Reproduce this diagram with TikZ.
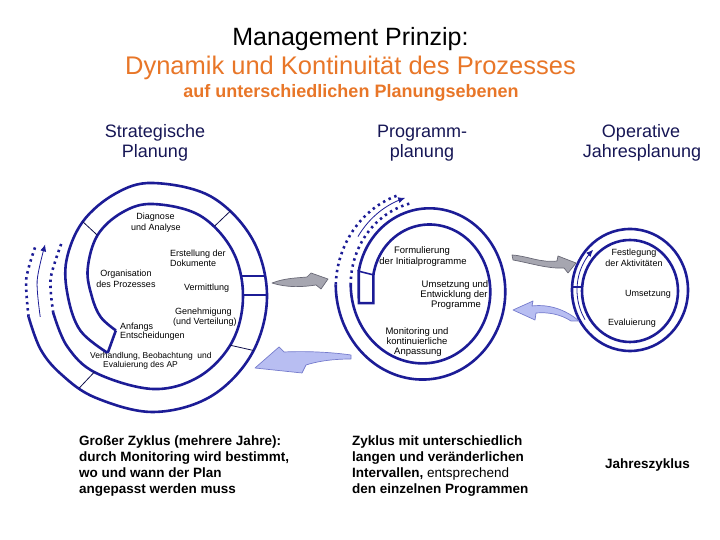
\documentclass[tikz,border=0pt]{standalone}
\usepackage{fontspec}
\setmainfont{Liberation Sans}
\usetikzlibrary{arrows.meta}
\definecolor{navy}{RGB}{28,28,150}
\definecolor{hdr}{RGB}{22,22,85}
\definecolor{orng}{RGB}{232,118,40}
\definecolor{grayarr}{RGB}{166,166,176}
\definecolor{grayedge}{RGB}{105,105,118}
\definecolor{lavarr}{RGB}{184,190,242}
\definecolor{lavedge}{RGB}{118,124,205}
\begin{document}
\begin{tikzpicture}[x=1pt,y=1pt,
  ring/.style={draw=navy, line width=2.6pt},
  ringdot/.style={draw=navy, line width=2.6pt, dash pattern=on 2.4pt off 3.8pt},
  divider/.style={draw=navy!50!black, line width=0.8pt},
  boxline/.style={draw=navy, line width=1.6pt},
  thinarr/.style={draw=navy, line width=0.8pt, -{Latex[length=7pt,width=6pt]}},
  slbl/.style={font=\fontsize{9}{10}\selectfont, inner sep=0, anchor=base},
  mlbl/.style={font=\fontsize{9.5}{10}\selectfont, inner sep=0, anchor=base},
  hdrtxt/.style={font=\fontsize{18}{20}\selectfont, text=hdr, inner sep=0, anchor=base},
  bottxt/.style={font=\bfseries\fontsize{13.5}{15}\selectfont, inner sep=0, anchor=base west},
  grayblock/.style={fill=grayarr, draw=grayedge, line width=0.7pt, line join=round},
  lavblock/.style={fill=lavarr, draw=lavedge, line width=0.7pt, line join=round}]
\useasboundingbox (0,0) rectangle (720,540);

% ---------- titles ----------
\node[anchor=base, inner sep=0, font=\fontsize{25}{28}\selectfont] (t1) at (350.5,494) {Management Prinzip:};
\node[anchor=base, inner sep=0, font=\fontsize{25.5}{28}\selectfont, text=orng] (t2) at (350.5,465) {Dynamik und Kontinuität des Prozesses};
\node[anchor=base, inner sep=0, font=\bfseries\fontsize{18}{20}\selectfont, text=orng] (t3) at (351,442) {auf unterschiedlichen Planungsebenen};

% ---------- headers ----------
\node[hdrtxt] (s1) at (155,402) {Strategische};
\node[hdrtxt] (s2) at (155,382) {Planung};
\node[hdrtxt] (p1) at (422,402) {Programm-};
\node[hdrtxt] (p2) at (422,382) {planung};
\node[hdrtxt] (o1) at (641,402) {Operative};
\node[hdrtxt] (o2) at (642,382) {Jahresplanung};

% ---------- left spiral ----------
\begin{scope}[shift={(153,243)}]
  \draw[ring] plot[smooth, tension=0.6] coordinates {(222:50) (201:56) (180:61) (157:71) (132:83) (110:90) (90:93) (60:94) (30:92) (0:90) (-30:91) (-60:92) (-90:92) (-127:95) (-150:99) (-171:101)};
  \draw[ring] plot[smooth, tension=0.6] coordinates {(231:72) (205:80) (180:85) (157:94) (133:103) (110:110) (90:114) (60:116) (30:115) (0:114) (-30:114) (-60:115) (-90:115) (-120:116) (-140:120) (-155:124) (-171:126)};
  \draw[ring] (222:50) -- (231:72);
  \draw[ringdot] plot[smooth] coordinates {(-171:101) (-190:104) (-210:106)};
  \draw[ringdot] plot[smooth] coordinates {(-171:126) (-188:128) (-203:128)};
  \draw[thinarr] plot[smooth] coordinates {(-170:114.5) (-188:117) (-206:120)};
  \draw[divider] (132:83) -- (133:103);
  \draw[divider] (49:94) -- (48:116);
  \draw[divider] (-32:91) -- (-28:114);
  \draw[divider] (-128:95) -- (-129:117);
  \draw[boxline] (87.5,21) -- (112,21);
  \draw[boxline] (90,2) -- (114,2);
\end{scope}

% ---------- middle spiral ----------
\begin{scope}[shift={(426,252)}, yscale=1.08]
  \draw[ring] plot[domain=0:349, samples=90, variable=\t, smooth] ({167-\t}:{54+22*\t/360});
  \draw[ring] plot[domain=0:349, samples=90, variable=\t, smooth] ({167-\t}:{69+22*\t/360});
  \draw[ringdot] plot[domain=349:427, samples=25, variable=\t, smooth] ({167-\t}:{75.3+0.06*(\t-349)});
  \draw[ringdot] plot[domain=349:420, samples=25, variable=\t, smooth] ({167-\t}:{90.3});
  \draw[thinarr] plot[domain=145:104, samples=20, variable=\t, smooth] (\t:{83+3*(145-\t)/41});
  \draw[ring, line cap=rect] (167:69) -- (-67.2,-14) -- (-52.6,-14) -- (167:54);
  \draw[boxline] (167:54) -- (167:69);
\end{scope}

% ---------- right circle ----------
\draw[ring] (630,250) ellipse [x radius=58, y radius=61];
\draw[ring] (630,249) ellipse [x radius=48, y radius=51];
\draw[boxline] (572,253) -- (582,253);
\begin{scope}[shift={(630,250)}]
  \draw[thinarr] plot[domain=212:134, samples=30, variable=\t, smooth] ({53*cos(\t)},{56*sin(\t)});
\end{scope}

% ---------- block arrows ----------
\draw[grayblock] (272,257) .. controls (285,262) and (297,262) .. (307,263) -- (311,267) -- (328,261) -- (321,251) -- (316,255) .. controls (303,253) and (288,252) .. cycle;
\draw[lavblock] (255,172) -- (279,193) -- (284,188) .. controls (305,189) and (330,188) .. (351,185) -- (351,181) .. controls (330,181) and (315,178) .. (306,175) -- (302,167) -- cycle;
\draw[grayblock] (512,285) .. controls (528,284) and (540,277) .. (557,279) -- (558,284) -- (576,277) -- (568,267) -- (564,272) .. controls (548,271) and (530,277) .. (513,280) -- cycle;
\draw[lavblock] (513,230) -- (533,239) -- (532,234) .. controls (548,236) and (565,231) .. (579,219) -- (571,219) .. controls (560,226) and (548,228) .. (536,227) -- (535,220) -- cycle;

% ---------- left labels ----------
\node[slbl] (l1) at (155.5,320) {Diagnose};
\node[slbl] (l2) at (156,309) {und Analyse};
\node[slbl, anchor=base west] (l3) at (170,283) {Erstellung der};
\node[slbl, anchor=base west] (l4) at (170,273) {Dokumente};
\node[slbl] (l5) at (126,263) {Organisation};
\node[slbl] (l6) at (126,252) {des Prozesses};
\node[slbl, anchor=base west] (l7) at (184,249) {Vermittlung};
\node[slbl, anchor=base west] (l8) at (175,225) {Genehmigung};
\node[slbl, anchor=base west] (l9) at (173,215) {(und Verteilung)};
\node[slbl, anchor=base west] (l10) at (120,210) {Anfangs};
\node[slbl, anchor=base west] (l11) at (120,201) {Entscheidungen};
\node[slbl, anchor=base west, font=\fontsize{8.5}{9}\selectfont] (l12) at (90,181) {Verhandlung, Beobachtung\ \ und};
\node[slbl, anchor=base west, font=\fontsize{8.5}{9}\selectfont] (l13) at (103,172) {Evaluierung des AP};

% ---------- middle labels ----------
\node[mlbl] (m1) at (422,286) {Formulierung};
\node[mlbl] (m2) at (423,275) {der Initialprogramme};
\node[mlbl] (m3) at (455,252) {Umsetzung und};
\node[mlbl] (m4) at (454,242) {Entwicklung der};
\node[mlbl] (m5) at (456,232) {Programme};
\node[mlbl] (m6) at (417,205) {Monitoring und};
\node[mlbl] (m7) at (417,195) {kontinuierliche};
\node[mlbl] (m8) at (418,185) {Anpassung};

% ---------- right labels ----------
\node[slbl] (r1) at (634,284) {Festlegung};
\node[slbl] (r2) at (634,273) {der Aktivitäten};
\node[slbl] (r3) at (648,243) {Umsetzung};
\node[slbl] (r4) at (632,214) {Evaluierung};

% ---------- bottom texts ----------
\node[bottxt] (b1) at (79,94) {Großer Zyklus (mehrere Jahre):};
\node[bottxt] (b2) at (79,78) {durch Monitoring wird bestimmt,};
\node[bottxt] (b3) at (79,62) {wo und wann der Plan};
\node[bottxt] (b4) at (79,46) {angepasst werden muss};
\node[bottxt] (c1) at (352,94) {Zyklus mit unterschiedlich};
\node[bottxt] (c2) at (352,78) {langen und veränderlichen};
\node[bottxt] (c3) at (352,62) {Intervallen, \mdseries entsprechend};
\node[bottxt] (c4) at (352,46) {den einzelnen Programmen};
\node[bottxt, anchor=base] (j1) at (647.5,71) {Jahreszyklus};
\end{tikzpicture}
\end{document}
